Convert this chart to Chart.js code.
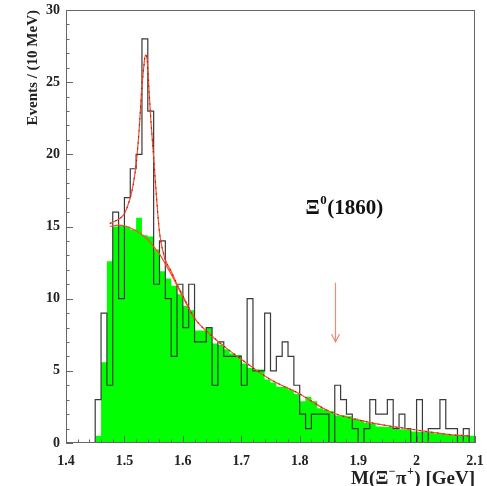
<!DOCTYPE html>
<html>
<head>
<meta charset="UTF-8">
<title>M(Ξ-π+) spectrum</title>
<script src="https://cdn.jsdelivr.net/npm/chart.js@4.4.0/dist/chart.umd.min.js"></script>
<style>
  html, body { margin: 0; padding: 0; background: #fff; }
</style>
</head>
<body>
<canvas id="massChart" width="487" height="486"></canvas>
<script>
// low edge of every 10 MeV bin (GeV)
const binLow = [1.45, 1.46, 1.47, 1.48, 1.49, 1.50, 1.51, 1.52, 1.53, 1.54,
                1.55, 1.56, 1.57, 1.58, 1.59, 1.60, 1.61, 1.62, 1.63, 1.64,
                1.65, 1.66, 1.67, 1.68, 1.69, 1.70, 1.71, 1.72, 1.73, 1.74,
                1.75, 1.76, 1.77, 1.78, 1.79, 1.80, 1.81, 1.82, 1.83, 1.84,
                1.85, 1.86, 1.87, 1.88, 1.89, 1.90, 1.91, 1.92, 1.93, 1.94,
                1.95, 1.96, 1.97, 1.98, 1.99, 2.00, 2.01, 2.02, 2.03, 2.04,
                2.05, 2.06, 2.07, 2.08, 2.09];
const binHigh = 2.10;

// events per bin (open histogram)
const dataCounts = [3, 9, 4, 16, 10, 17, 19, 20, 28, 23,
                    11, 14, 10, 6, 11, 8, 11, 7, 7, 8,
                    4, 7, 6, 6, 6, 4, 10, 5, 5, 9,
                    5, 6, 7, 6, 4, 2, 1, 2, 2, 2,
                    0, 4, 3, 2, 1, 0, 1, 3, 2, 2,
                    3, 1, 2, 1, 0, 3, 0, 1, 1, 3,
                    1, 1, 0, 1, 0];

// mixed-event background (filled histogram)
const mixedCounts = [0.5, 5.6, 12.6, 15.0, 15.1, 15.0, 14.8, 15.6, 14.4, 14.3,
                     13.4, 11.9, 11.4, 10.9, 10.3, 9.5, 9.2, 7.8, 7.8, 8.0,
                     6.9, 6.8, 6.5, 6.2, 6.1, 5.5, 5.2, 5.1, 5.1, 4.4,
                     4.2, 3.9, 3.9, 3.7, 3.4, 2.9, 3.2, 2.9, 2.4, 2.3,
                     2.2, 1.9, 1.9, 1.85, 1.7, 1.6, 1.4, 1.35, 1.15, 1.12,
                     1.1, 0.95, 0.95, 0.93, 0.8, 0.78, 0.76, 0.75, 0.65, 0.62,
                     0.6, 0.55, 0.55, 0.55, 0.5];

// fitted curve: signal + background
const fitMass  = [1.475, 1.48, 1.49, 1.50, 1.51, 1.515, 1.52, 1.525, 1.53, 1.533,
                  1.536, 1.539, 1.542, 1.545, 1.55, 1.555, 1.56, 1.57, 1.58, 1.59,
                  1.60, 1.62, 1.65, 1.68, 1.70, 1.75, 1.80, 1.85, 1.90, 1.95,
                  2.00, 2.05, 2.09];
const fitValue = [15.2, 15.3, 15.5, 15.9, 17.0, 17.9, 19.3, 21.6, 24.7, 26.0,
                  26.9, 26.5, 24.5, 22.5, 19.8, 17.0, 14.6, 12.7, 11.9, 11.0,
                  10.2, 8.65, 7.4, 6.4, 5.8, 4.4, 3.4, 2.2, 1.6, 1.2,
                  0.9, 0.62, 0.48];

// background part of the fit
const bkgMass  = [1.475, 1.48, 1.49, 1.50, 1.51, 1.52, 1.53, 1.54, 1.55, 1.56,
                  1.57, 1.58, 1.59, 1.60, 1.62];
const bkgValue = [15.0, 15.05, 15.1, 15.05, 14.9, 14.7, 14.45, 14.1, 13.6, 13.1,
                  12.4, 11.7, 10.9, 10.1, 8.6];

const xTicks = [1.4, 1.5, 1.6, 1.7, 1.8, 1.9, 2.0, 2.1];
const yTicks = [0, 5, 10, 15, 20, 25, 30];
const arrowMass = 1.86;

const SERIF = "'Liberation Serif', 'DejaVu Serif', serif";
const RED = '#ff4a2e';

// histogram as a stepped line: one point per low edge plus the closing edge;
// stepped 'before' keeps each bin's value across [low, next low)
function histPoints(values) {
  const pts = [{x: binLow[0], y: 0}];
  binLow.forEach((lo, i) => pts.push({x: lo, y: values[i]}));
  pts.push({x: binHigh, y: values[values.length - 1]});
  return pts;
}
const curvePoints = (xs, ys) => xs.map((x, i) => ({x: x, y: ys[i]}));

// draws text with a small raised part: [text, raised?] pieces
function drawPieces(ctx, pieces, x, base, size, align) {
  const small = Math.round(size * 0.62);
  const widthOf = p => {
    ctx.font = 'bold ' + (p[1] ? small : size) + 'px ' + SERIF;
    return ctx.measureText(p[0]).width + (p[1] ? 1 : 0);
  };
  let total = 0;
  pieces.forEach(p => { total += widthOf(p); });
  let cx = align === 'right' ? x - total : x;
  ctx.textAlign = 'left';
  ctx.textBaseline = 'alphabetic';
  pieces.forEach(p => {
    const w = widthOf(p);
    ctx.fillText(p[0], cx + (p[1] ? 0.5 : 0), p[1] ? base - size * 0.45 : base);
    cx += w;
  });
}

// frame, inward ticks, axis title and the Xi(1860) marker
const decorations = {
  id: 'decorations',
  afterDatasetsDraw(chart) {
    const {ctx, chartArea: a, scales: {x, y}} = chart;
    ctx.save();
    ctx.strokeStyle = '#666';
    ctx.lineWidth = 1;
    ctx.strokeRect(a.left + 0.5, a.top + 0.5, a.right - a.left - 1, a.bottom - a.top - 1);

    ctx.beginPath();
    for (let v = 0; v <= 30; v++) {
      const py = Math.round(y.getPixelForValue(v)) + 0.5;
      const len = v % 5 === 0 ? 7 : 3.5;
      ctx.moveTo(a.left, py);
      ctx.lineTo(a.left + len, py);
    }
    for (let k = 0; k <= 35; k++) {
      const px = Math.round(x.getPixelForValue(1.4 + k * 0.02)) + 0.5;
      const len = k % 5 === 0 ? 7 : 3.5;
      ctx.moveTo(px, a.bottom);
      ctx.lineTo(px, a.bottom - len);
    }
    ctx.stroke();

    // arrow pointing at the expected mass
    const ax = Math.round(x.getPixelForValue(arrowMass)) + 0.5;
    const top = y.getPixelForValue(11.1);
    const tip = y.getPixelForValue(7.0);
    ctx.strokeStyle = '#f28a78';
    ctx.lineWidth = 1.2;
    ctx.beginPath();
    ctx.moveTo(ax, top);
    ctx.lineTo(ax, tip);
    ctx.moveTo(ax - 4, tip - 8);
    ctx.lineTo(ax, tip);
    ctx.lineTo(ax + 4, tip - 8);
    ctx.stroke();

    ctx.fillStyle = '#111';
    drawPieces(ctx, [['Ξ', false], ['0', true], ['(1860)', false]],
               x.getPixelForValue(1.81), y.getPixelForValue(15.9), 21, 'left');

    // x axis title with superscript charges
    ctx.fillStyle = '#222';
    drawPieces(ctx, [['M(Ξ', false], ['−', true], ['π', false], ['+', true], [') [GeV]', false]],
               a.right, 484, 19, 'right');
    ctx.restore();
  }
};

new Chart(document.getElementById('massChart'), {
  type: 'line',
  data: {
    datasets: [
      {
        label: 'fit (dots)',
        data: curvePoints(fitMass, fitValue),
        borderColor: 'rgba(70, 10, 0, 0.6)',
        borderWidth: 1.2,
        borderDash: [1.5, 4.5],
        cubicInterpolationMode: 'monotone',
        pointRadius: 0,
        order: 0
      },
      {
        label: 'fit',
        data: curvePoints(fitMass, fitValue),
        borderColor: RED,
        borderWidth: 1.2,
        cubicInterpolationMode: 'monotone',
        pointRadius: 0,
        order: 1
      },
      {
        label: 'background',
        data: curvePoints(bkgMass, bkgValue),
        borderColor: RED,
        borderWidth: 1.2,
        cubicInterpolationMode: 'monotone',
        pointRadius: 0,
        order: 2
      },
      {
        label: 'data',
        data: histPoints(dataCounts),
        stepped: 'before',
        borderColor: '#3a3a3a',
        borderWidth: 1.2,
        pointRadius: 0,
        fill: false,
        order: 3
      },
      {
        label: 'mixed events',
        data: histPoints(mixedCounts),
        stepped: 'before',
        borderWidth: 0,
        borderColor: 'rgba(0,0,0,0)',
        backgroundColor: '#00ff00',
        pointRadius: 0,
        fill: 'origin',
        order: 4
      }
    ]
  },
  options: {
    responsive: false,
    animation: false,
    layout: { padding: 0 },
    plugins: { legend: { display: false }, tooltip: { enabled: false } },
    scales: {
      x: {
        type: 'linear',
        min: 1.4,
        max: 2.1,
        // fixed axis box so the plot frame lands where it should
        afterFit: s => { s.height = 43; s.paddingLeft = 0; s.paddingRight = 12; },
        afterBuildTicks: s => { s.ticks = xTicks.map(v => ({value: v})); },
        grid: { display: false, drawTicks: false },
        border: { display: false },
        ticks: {
          padding: 10,
          color: '#222',
          maxRotation: 0,
          autoSkip: false,
          font: { family: SERIF, weight: 'bold', size: 14 },
          callback: v => String(+v.toFixed(1))
        }
      },
      y: {
        min: 0,
        max: 30,
        afterFit: s => { s.width = 66; s.paddingTop = 10; s.paddingBottom = 0; },
        afterBuildTicks: s => { s.ticks = yTicks.map(v => ({value: v})); },
        grid: { display: false, drawTicks: false },
        border: { display: false },
        ticks: {
          padding: 6,
          color: '#222',
          font: { family: SERIF, weight: 'bold', size: 14 }
        },
        title: {
          display: true,
          text: 'Events / (10 MeV)',
          align: 'end',
          color: '#222',
          font: { family: SERIF, weight: 'bold', size: 15 },
          padding: { top: 24, bottom: 0 }
        }
      }
    }
  },
  plugins: [decorations]
});
</script>
</body>
</html>
